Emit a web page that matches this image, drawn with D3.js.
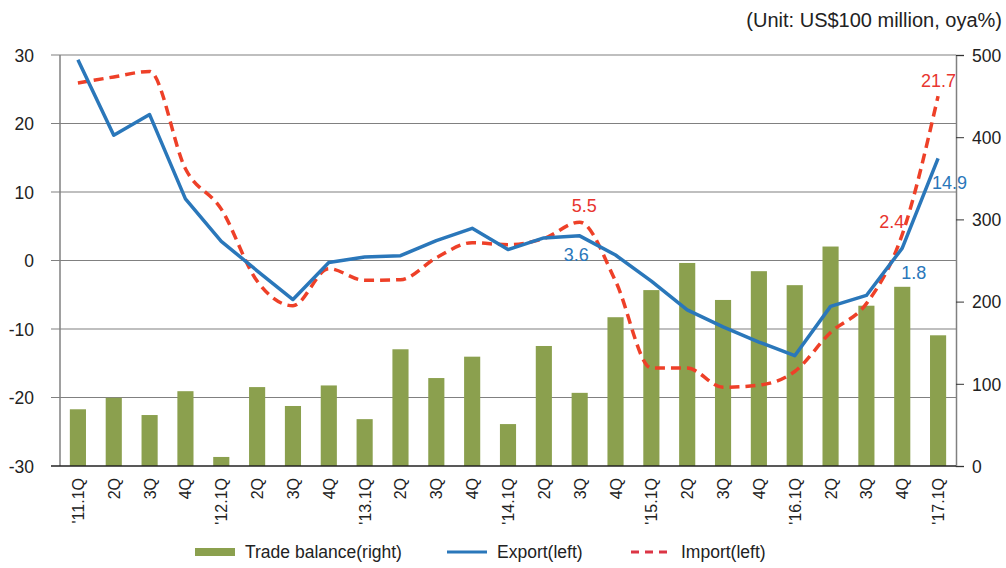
<!DOCTYPE html>
<meta charset="utf-8">
<style>
body { margin: 0; background: #fff; }
svg { font-family: "Liberation Sans", Arial, sans-serif; }
.grid line { stroke: #808080; stroke-width: 1.2; }
.tick text { font-size: 17.5px; fill: #222; }
.xlab { font-size: 16px; fill: #222; }
.legend text { font-size: 17.5px; fill: #222; }
</style>
<svg width="1006" height="568"></svg>
<script src="https://cdn.jsdelivr.net/npm/d3@7"></script>
<script>

var quarters = ["'11.1Q","2Q","3Q","4Q","'12.1Q","2Q","3Q","4Q","'13.1Q","2Q","3Q","4Q",
  "'14.1Q","2Q","3Q","4Q","'15.1Q","2Q","3Q","4Q","'16.1Q","2Q","3Q","4Q","'17.1Q"];

// trade balance, US$100 million (right axis)
var balance = [69,83,62,91,11,96,73,98,57,142,107,133,51,146,89,181,214,247,202,237,220,267,195,218,159];

// oya %, left axis
var exports = [29.3,18.3,21.3,9.0,2.8,-1.5,-5.7,-0.3,0.5,0.7,2.9,4.7,1.6,3.3,3.6,0.8,-3.0,-7.2,-9.7,-11.9,-13.9,-6.7,-5.1,1.8,14.9];
var imports = [25.9,26.8,27.6,13.4,7.5,-3.0,-6.6,-1.2,-2.9,-2.8,0.4,2.6,2.3,3.2,5.6,-3.0,-15.7,-15.7,-18.5,-18.2,-16.2,-10.5,-6.3,3.8,24.0];

var leftTicks = [30,20,10,0,-10,-20,-30];
var rightTicks = [0,100,200,300,400,500];

var labels = [
  {text: "21.7", series: "imp", i: 24, dx: 18, dy: -9, anchor: "end"},
  {text: "14.9", series: "exp", i: 24, dx: -6, dy: 31, anchor: "start"},
  {text: "2.4", series: "imp", i: 23, dx: -23, dy: -6, anchor: "start"},
  {text: "1.8", series: "exp", i: 23, dx: -1, dy: 31, anchor: "start"},
  {text: "5.5", series: "imp", i: 14, dx: -8, dy: -10, anchor: "start"},
  {text: "3.6", series: "exp", i: 14, dx: -16, dy: 25, anchor: "start"}
];

var blue = "#2a77ba", red = "#ee4028", green = "#8ba04e";

var svg = d3.select("svg");
var plotL = 60, plotR = 956, plotT = 55, plotB = 466;

var x = d3.scaleBand()
    .domain(d3.range(quarters.length))
    .range([plotL, plotR])
    .paddingInner(0.55)
    .paddingOuter(0.275);

var cx = function(i) { return x(i) + x.bandwidth() / 2; };

var yL = d3.scaleLinear().domain([-30, 30]).range([plotB, plotT]);
var yR = d3.scaleLinear().domain([0, 500]).range([plotB, plotT]);

// gridlines + left labels
var grid = svg.append("g").attr("class", "grid");
grid.selectAll("line")
    .data(leftTicks.filter(function(d) { return d > -30; }))
  .enter().append("line")
    .attr("x1", plotL - 9).attr("x2", plotR)
    .attr("y1", function(d) { return yL(d); })
    .attr("y2", function(d) { return yL(d); });

svg.append("g")
    .attr("transform", "translate(" + (plotL - 9) + ",0)")
    .call(d3.axisLeft(yL).tickValues(leftTicks).tickFormat(String).tickSize(0).tickPadding(17))
    .call(function(g) { g.select(".domain").remove(); })
    .selectAll(".tick text").attr("dy", "0.36em");

svg.append("g")
    .attr("transform", "translate(" + plotR + ",0)")
    .call(d3.axisRight(yR).tickValues(rightTicks).tickFormat(String).tickSize(8).tickPadding(8))
    .call(function(g) {
      g.select(".domain").attr("stroke", "#808080").attr("stroke-width", 1.5);
      g.selectAll(".tick line").attr("stroke", "#333");
    })
    .selectAll(".tick text").attr("dy", "0.36em");

// left axis line
svg.append("line").attr("x1", plotL).attr("x2", plotL).attr("y1", plotT).attr("y2", plotB)
    .attr("stroke", "#808080").attr("stroke-width", 1.5);

// bars
svg.append("g").selectAll("rect")
    .data(balance)
  .enter().append("rect")
    .attr("x", function(d, i) { return x(i); })
    .attr("width", x.bandwidth())
    .attr("y", function(d) { return yR(d); })
    .attr("height", function(d) { return yR(0) - yR(d); })
    .attr("fill", green);

svg.append("line").attr("x1", plotL - 9).attr("x2", plotR).attr("y1", plotB).attr("y2", plotB)
    .attr("stroke", "#222").attr("stroke-width", 1.5);

// lines
var lineExp = d3.line().x(function(d, i) { return cx(i); }).y(function(d) { return yL(d); });
var lineImp = d3.line().x(function(d, i) { return cx(i); }).y(function(d) { return yL(d); })
    .curve(d3.curveMonotoneX);

svg.append("path").datum(imports)
    .attr("d", lineImp)
    .attr("fill", "none").attr("stroke", red).attr("stroke-width", 3.5)
    .attr("stroke-dasharray", "10,6");

svg.append("path").datum(exports)
    .attr("d", lineExp)
    .attr("fill", "none").attr("stroke", blue).attr("stroke-width", 3.5)
    .attr("stroke-linejoin", "round");

// data labels
svg.append("g").selectAll("text")
    .data(labels)
  .enter().append("text")
    .attr("x", function(d) { return cx(d.i) + d.dx; })
    .attr("y", function(d) { return yL(d.series == "imp" ? imports[d.i] : exports[d.i]) + d.dy; })
    .attr("text-anchor", function(d) { return d.anchor; })
    .attr("fill", function(d) { return d.series == "imp" ? "#e8352f" : blue; })
    .style("font-size", "18px")
    .text(function(d) { return d.text; });

// x labels
svg.append("g").selectAll("text")
    .data(quarters)
  .enter().append("text")
    .attr("class", "xlab")
    .attr("transform", function(d, i) { return "translate(" + (cx(i) + 6) + ",478) rotate(-90)"; })
    .attr("text-anchor", "end")
    .text(function(d) { return d; });

// unit
svg.append("text")
    .attr("x", 1002).attr("y", 27)
    .attr("text-anchor", "end")
    .style("font-size", "20px").attr("fill", "#222")
    .text("(Unit: US$100 million, oya%)");

// legend
var legend = svg.append("g").attr("class", "legend");
legend.append("rect").attr("x", 195).attr("y", 548).attr("width", 40).attr("height", 8).attr("fill", green);
legend.append("text").attr("x", 245).attr("y", 558).text("Trade balance(right)");
legend.append("line").attr("x1", 447).attr("x2", 487).attr("y1", 552).attr("y2", 552)
    .attr("stroke", blue).attr("stroke-width", 3);
legend.append("text").attr("x", 497).attr("y", 558).text("Export(left)");
legend.append("line").attr("x1", 631).attr("x2", 671).attr("y1", 552).attr("y2", 552)
    .attr("stroke", "#dc3545").attr("stroke-width", 3).attr("stroke-dasharray", "8,6");
legend.append("text").attr("x", 681).attr("y", 558).text("Import(left)");

</script>
